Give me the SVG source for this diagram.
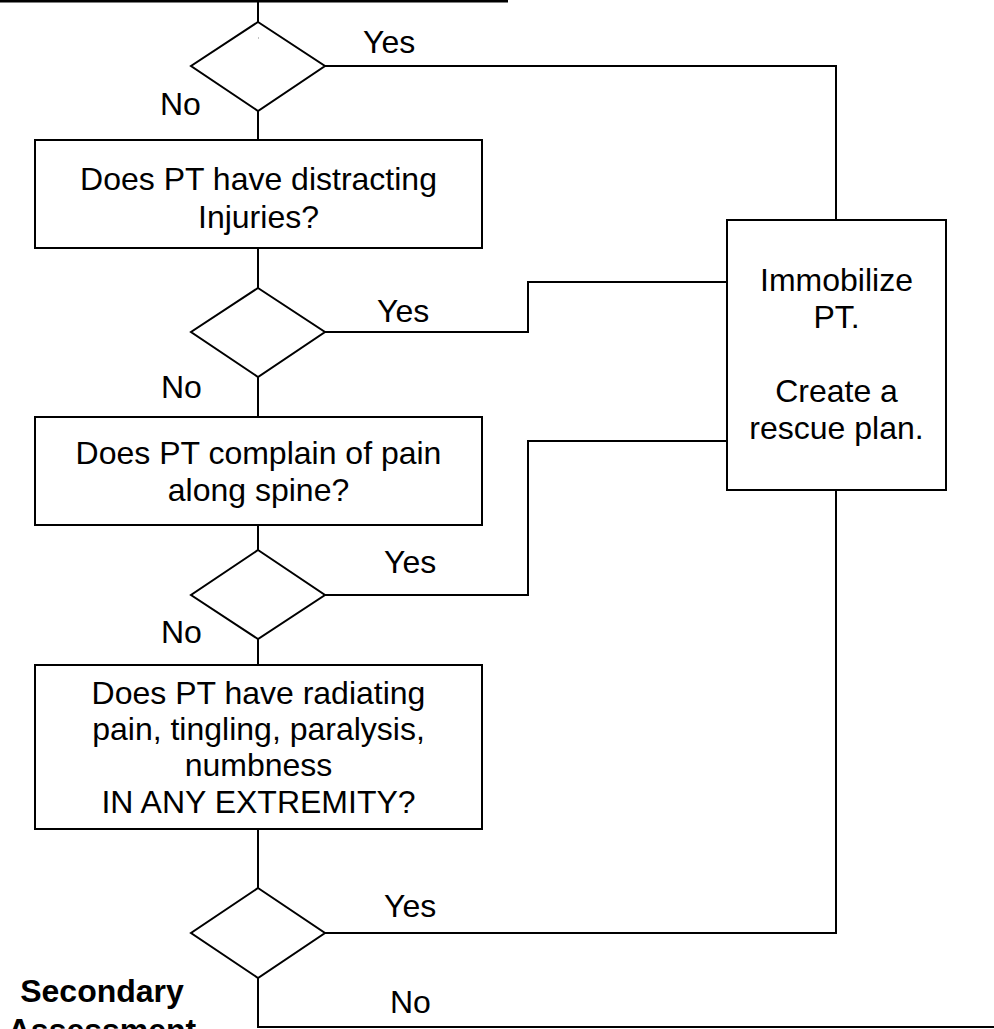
<svg xmlns="http://www.w3.org/2000/svg" width="994" height="1029" viewBox="0 0 994 1029">
<style>
  .ln { fill: none; stroke: #000; stroke-width: 2; }
  .box { fill: #fff; stroke: #000; stroke-width: 2; }
  .t { font-family: "Liberation Sans", Arial, sans-serif; font-size: 32px; fill: #000; }
  .c { text-anchor: middle; }
  .b { font-weight: bold; }
</style>
<rect width="994" height="1029" fill="#fff"/>
<g id="connectors">
  <line class="ln" x1="0" y1="1" x2="508" y2="1" style="stroke-width:3"/>
  <line class="ln" x1="258" y1="0" x2="258" y2="22"/>
  <polyline class="ln" points="325,66 836,66 836,220"/>
  <line class="ln" x1="258" y1="111" x2="258" y2="140"/>
  <line class="ln" x1="258" y1="248" x2="258" y2="288"/>
  <polyline class="ln" points="325,332 528,332 528,282 727,282"/>
  <line class="ln" x1="258" y1="377" x2="258" y2="417"/>
  <line class="ln" x1="258" y1="525" x2="258" y2="550"/>
  <polyline class="ln" points="325,595 528,595 528,441 727,441"/>
  <line class="ln" x1="258" y1="639" x2="258" y2="665"/>
  <line class="ln" x1="258" y1="829" x2="258" y2="888"/>
  <polyline class="ln" points="325,933 836,933 836,490"/>
  <polyline class="ln" points="258,978 258,1027 994,1027"/>
</g>
<g id="decision1">
  <polygon class="box" points="258,22 325,66 258,111 191,66"/>
  <rect x="258" y="37.5" width="1" height="1" fill="#888"/>
  <text class="t" x="363" y="53">Yes</text>
  <text class="t" x="160" y="115">No</text>
</g>
<g id="box1">
  <rect class="box" x="35" y="140" width="447" height="108"/>
  <text class="t c" x="258.5" y="190">Does PT have distracting</text>
  <text class="t c" x="258.5" y="228">Injuries?</text>
</g>
<g id="decision2">
  <polygon class="box" points="258,288 325,332 258,377 191,332"/>
  <text class="t" x="377" y="322">Yes</text>
  <text class="t" x="161" y="398">No</text>
</g>
<g id="box2">
  <rect class="box" x="35" y="417" width="447" height="108"/>
  <text class="t c" x="258.5" y="464">Does PT complain of pain</text>
  <text class="t c" x="258.5" y="501">along spine?</text>
</g>
<g id="decision3">
  <polygon class="box" points="258,550 325,595 258,639 191,595"/>
  <text class="t" x="384" y="573">Yes</text>
  <text class="t" x="161" y="643">No</text>
</g>
<g id="box3">
  <rect class="box" x="35" y="665" width="447" height="164"/>
  <text class="t c" x="258.5" y="704">Does PT have radiating</text>
  <text class="t c" x="258.5" y="740">pain, tingling, paralysis,</text>
  <text class="t c" x="258.5" y="776">numbness</text>
  <text class="t c" x="258.5" y="813">IN ANY EXTREMITY?</text>
</g>
<g id="decision4">
  <polygon class="box" points="258,888 325,933 258,978 191,933"/>
  <text class="t" x="384" y="917">Yes</text>
  <text class="t" x="390" y="1013">No</text>
</g>
<g id="immobilize">
  <rect class="box" x="727" y="220" width="219" height="270"/>
  <text class="t c" x="836.5" y="291">Immobilize</text>
  <text class="t c" x="836.5" y="328">PT.</text>
  <text class="t c" x="836.5" y="402">Create a</text>
  <text class="t c" x="836.5" y="439">rescue plan.</text>
</g>
<g id="secondary">
  <text class="t c b" x="102" y="1002">Secondary</text>
  <text class="t c b" x="102" y="1041">Assessment</text>
</g>
</svg>
